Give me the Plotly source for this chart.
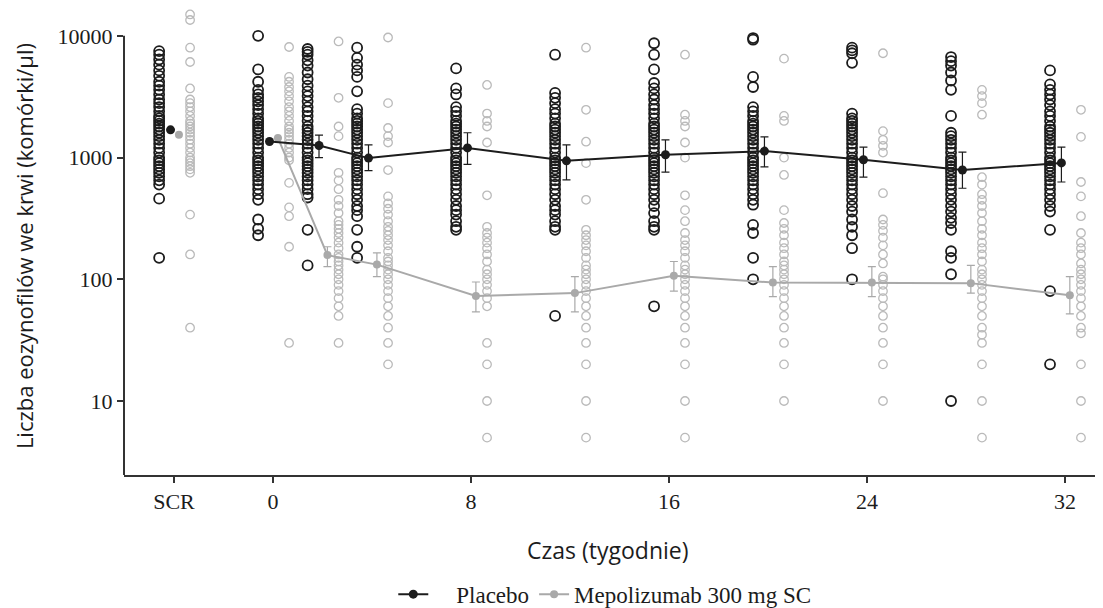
import plotly.graph_objects as go

# ---------------- data ----------------
weeks = [-4, 0, 2, 4, 8, 12, 16, 20, 24, 28, 32]   # -4 = SCR (screening)
tick_vals = [-4, 0, 8, 16, 24, 32]
tick_text = ["SCR", "0", "8", "16", "24", "32"]

placebo_mean = [1690, 1355, 1256, 990, 1200, 940, 1055, 1130, 960, 790, 904]
placebo_lo   = [1690, 1355, 1000, 780, 880, 656, 760, 840, 690, 560, 630]
placebo_hi   = [1690, 1355, 1530, 1270, 1600, 1270, 1400, 1480, 1220, 1110, 1220]

mepo_mean = [1540, 1450, 158, 132, 73, 77, 107, 94, 94, 93, 74]
mepo_lo   = [1540, 1450, 127, 105, 54, 54, 80, 72, 72, 77, 52]
mepo_hi   = [1540, 1450, 185, 165, 95, 105, 140, 127, 127, 130, 105]

placebo_ind = [
    [7500, 7000, 6400, 5800, 5200, 4700, 4200, 3900, 3600, 3300, 3000, 2800, 2600, 2400, 2200, 2100, 2000, 1900,
     1800, 1700, 1600, 1500, 1400, 1300, 1200, 1100, 1000, 950, 900, 850, 800, 750, 700, 650, 600, 460, 150],
    [10000, 5300, 4200, 3600, 3300, 3100, 2900, 2700, 2500, 2300, 2100, 2000, 1900, 1800, 1700, 1600, 1500, 1400,
     1300, 1200, 1100, 1000, 950, 900, 850, 800, 750, 700, 650, 600, 550, 500, 450, 310, 260, 230],
    [7800, 7400, 7000, 6300, 5700, 5000, 4400, 3900, 3500, 3200, 2900, 2600, 2400, 2200, 2000, 1800, 1700, 1600,
     1500, 1400, 1300, 1200, 1100, 1000, 950, 900, 850, 800, 750, 700, 650, 600, 550, 500, 470, 255, 130],
    [8000, 6600, 5800, 5200, 4600, 3500, 2500, 2300, 2100, 2000, 1900, 1800, 1700, 1600, 1500, 1400, 1300, 1200,
     1100, 1000, 950, 900, 850, 800, 750, 700, 650, 600, 550, 500, 450, 400, 370, 330, 255, 185, 150],
    [5400, 3700, 3300, 2600, 2400, 2200, 2000, 1900, 1800, 1700, 1600, 1500, 1400, 1300, 1200, 1100, 1000, 950,
     900, 850, 800, 750, 700, 650, 600, 550, 500, 450, 400, 370, 340, 300, 270, 255],
    [7000, 3400, 3100, 2800, 2500, 2300, 2100, 1900, 1800, 1700, 1600, 1500, 1400, 1300, 1200, 1100, 1000, 950,
     900, 850, 800, 750, 700, 650, 600, 550, 500, 450, 400, 370, 340, 300, 270, 255, 50],
    [8700, 7000, 5300, 4100, 3700, 3300, 3000, 2700, 2500, 2300, 2100, 1900, 1800, 1700, 1600, 1500, 1400, 1300,
     1200, 1100, 1000, 950, 900, 850, 800, 750, 700, 650, 600, 550, 500, 450, 400, 350, 300, 270, 255, 60],
    [9600, 9300, 4600, 3800, 2600, 2400, 2200, 2000, 1900, 1800, 1700, 1600, 1500, 1400, 1300, 1200, 1100, 1000,
     950, 900, 850, 800, 750, 700, 650, 600, 550, 500, 450, 410, 280, 240, 150, 100],
    [8000, 7600, 7200, 6000, 2300, 2100, 2000, 1900, 1800, 1700, 1600, 1500, 1400, 1300, 1200, 1100, 1000, 950,
     900, 850, 800, 750, 700, 650, 600, 550, 500, 450, 400, 360, 310, 270, 230, 180, 100],
    [6700, 6200, 5700, 5000, 4300, 3600, 2200, 1600, 1500, 1400, 1300, 1200, 1100, 1000, 950, 900, 850, 800,
     750, 700, 650, 600, 550, 500, 450, 400, 360, 320, 290, 255, 170, 150, 110, 10],
    [5200, 4000, 3600, 3300, 3000, 2700, 2400, 2200, 2000, 1800, 1700, 1600, 1500, 1400, 1300, 1200, 1100, 1000,
     950, 900, 850, 800, 750, 700, 650, 600, 550, 500, 450, 400, 360, 255, 80, 20],
]

mepo_ind = [
    [15000, 13500, 8000, 6100, 3700, 3000, 2800, 2600, 2400, 2200, 2000, 1900, 1800, 1700, 1600, 1500, 1400, 1300,
     1200, 1100, 1000, 950, 900, 850, 800, 750, 340, 160, 40],
    [18000, 8100, 4600, 4200, 3800, 3500, 3200, 2900, 2600, 2400, 2200, 2000, 1800, 1700, 1600, 1500, 1400, 1300,
     1200, 1100, 1000, 950, 620, 390, 330, 185, 30],
    [9000, 3100, 1800, 1500, 750, 650, 550, 450, 400, 350, 300, 280, 260, 240, 220, 200, 180, 160, 150, 140, 130,
     120, 110, 100, 90, 80, 70, 60, 50, 30],
    [9700, 2800, 1750, 1500, 1330, 790, 480, 420, 380, 340, 300, 270, 250, 230, 210, 190, 170, 150, 140, 130, 120,
     110, 100, 90, 80, 70, 60, 50, 40, 30, 20],
    [3950, 2300, 2000, 1800, 1330, 490, 270, 240, 220, 200, 180, 160, 140, 120, 110, 100, 90, 80, 70, 60, 30, 20,
     10, 5],
    [8000, 2470, 1350, 900, 450, 255, 230, 210, 190, 170, 150, 130, 120, 110, 100, 90, 80, 70, 60, 50, 40, 30, 20,
     10, 5],
    [7000, 2250, 2000, 1800, 1330, 1000, 490, 370, 300, 240, 210, 190, 170, 150, 130, 120, 110, 100, 90, 80, 70,
     60, 50, 40, 30, 20, 10, 5],
    [6500, 2200, 2000, 1000, 720, 370, 290, 260, 230, 200, 180, 160, 140, 130, 120, 110, 100, 90, 80, 70, 60, 50,
     40, 30, 20, 10],
    [7200, 1650, 1400, 1250, 1100, 510, 310, 280, 250, 220, 190, 160, 135, 105, 100, 90, 80, 70, 60, 50, 40, 30,
     20, 10],
    [3600, 3200, 2800, 2250, 690, 600, 500, 450, 400, 350, 300, 260, 230, 200, 180, 160, 140, 120, 110, 100, 90, 80,
     70, 60, 50, 40, 35, 30, 20, 10, 5],
    [2470, 1480, 630, 480, 330, 240, 200, 180, 160, 135, 120, 110, 100, 90, 80, 70, 60, 50, 40, 36, 20, 10, 5],
]

x_title = "Czas (tygodnie)"
y_title = "Liczba eozynofilów we krwi (komórki/µl)"
names = ["Placebo", "Mepolizumab 300 mg SC"]
y_ticks = [10, 100, 1000, 10000]

# ---------------- style ----------------
BLACK = "#1c1c1c"
GREY = "#a9a9a9"
GREY_IND = "#bababa"
OFF_P_IND, OFF_P_MEAN, OFF_M_MEAN, OFF_M_IND = -0.6, -0.14, 0.2, 0.65
SERIF = "Liberation Serif"
SANS = "Open Sans"
PAD = "\u00a0" * 4  # gap between the Placebo legend symbol and its label
Y_LOG_MIN, Y_LOG_MAX, Y_LINE_TOP = 0.392, 4.229, 4.0   # axis line only drawn up to 10000

fig = go.Figure()

# individual subjects
px, py, mx, my = [], [], [], []
for w, vals in zip(weeks, placebo_ind):
    px += [w + OFF_P_IND] * len(vals)
    py += vals
for w, vals in zip(weeks, mepo_ind):
    mx += [w + OFF_M_IND] * len(vals)
    my += vals

fig.add_trace(go.Scatter(x=px, y=py, mode="markers", showlegend=False, cliponaxis=False,
                         marker=dict(symbol="circle-open", size=10, color=BLACK, line=dict(width=1.8, color=BLACK))))
fig.add_trace(go.Scatter(x=mx, y=my, mode="markers", showlegend=False, cliponaxis=False,
                         marker=dict(symbol="circle-open", size=8.5, color=GREY_IND, line=dict(width=1.3, color=GREY_IND))))


def mean_traces(mean, lo, hi, off, color, label, msize, rank):
    xs = [w + off for w in weeks]
    up = [h - m for h, m in zip(hi, mean)]
    dn = [m - l for m, l in zip(mean, lo)]
    # SCR point (not connected to the time course)
    fig.add_trace(go.Scatter(x=xs[:1], y=mean[:1], mode="markers", showlegend=False,
                             marker=dict(size=msize, color=color)))
    fig.add_trace(go.Scatter(x=xs[1:], y=mean[1:], mode="lines+markers", name=label, legendrank=rank,
                             line=dict(color=color, width=2),
                             marker=dict(size=msize, color=color),
                             error_y=dict(type="data", symmetric=False, array=up[1:], arrayminus=dn[1:],
                                          color=color, thickness=1.2, width=4)))


mean_traces(mepo_mean, mepo_lo, mepo_hi, OFF_M_MEAN, GREY, names[1], 8, 2)
mean_traces(placebo_mean, placebo_lo, placebo_hi, OFF_P_MEAN, BLACK, PAD + names[0], 9, 1)

# y axis line that stops at the top tick
fig.add_shape(type="line", xref="x domain", yref="y domain", x0=0, x1=0, y0=0,
              y1=(Y_LINE_TOP - Y_LOG_MIN) / (Y_LOG_MAX - Y_LOG_MIN),
              line=dict(color="#333", width=2), layer="above")

# page body has an 8px margin, so the figure is 8px smaller and the margins shifted accordingly
fig.update_layout(
    width=1095, height=600,
    margin=dict(l=116, r=1, t=0, b=133),
    paper_bgcolor="white", plot_bgcolor="white",
    showlegend=True,
    legend=dict(orientation="h", xref="container", yref="container", x=0.545, y=0.023,
                xanchor="center", yanchor="middle", font=dict(family=SERIF, size=23, color=BLACK),
                itemwidth=30, traceorder="normal"),
    xaxis=dict(range=[-6.02, 33.5], tickvals=tick_vals, ticktext=tick_text, automargin=False,
               showline=True, linecolor="#333", linewidth=2, showgrid=False, zeroline=False,
               ticks="outside", ticklen=6, tickwidth=1.5, tickcolor="#333",
               tickfont=dict(family=SERIF, size=22, color=BLACK)),
    yaxis=dict(type="log", range=[Y_LOG_MIN, Y_LOG_MAX], tickvals=y_ticks,
               ticktext=[str(v) for v in y_ticks], automargin=False,
               showline=False, showgrid=False, zeroline=False,
               ticks="outside", ticklen=6, tickwidth=1.5, tickcolor="#333",
               tickfont=dict(family=SERIF, size=22, color=BLACK)),
    annotations=[
        dict(text=x_title, xref="paper", yref="paper", x=0.495, y=-0.1606, xanchor="center", yanchor="middle",
             showarrow=False, font=dict(family=SANS, size=23, color=BLACK)),
        dict(text=y_title, xref="paper", yref="paper", x=-0.1023, y=0.490, xanchor="center", yanchor="middle",
             textangle=-90, showarrow=False, font=dict(family=SANS, size=22, color=BLACK)),
    ],
)

fig.write_html("out.html")
